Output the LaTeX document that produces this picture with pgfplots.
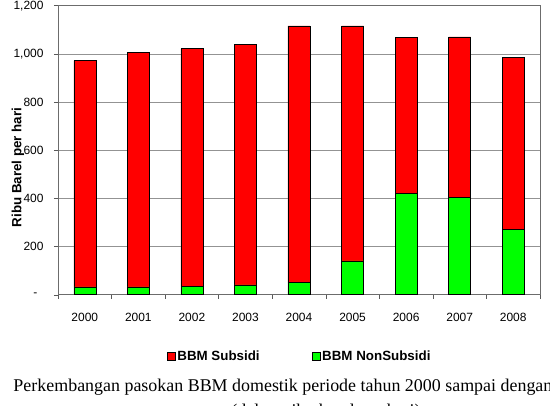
\documentclass[border=0pt]{standalone}
\usepackage{pgfplots}
\pgfplotsset{compat=1.18}
\usepackage{fontspec}
\setmainfont{Liberation Sans}
\newfontfamily\timesfont{Liberation Serif}
\definecolor{subsidi}{HTML}{FF0000}
\definecolor{nonsub}{HTML}{00FF00}
\begin{document}
\begin{tikzpicture}
\begin{axis}[
  at={(58bp,111.3bp)}, anchor=south west,
  scale only axis, width=482bp, height=289bp,
  ybar stacked, bar width=22bp,
  xmin=-0.5, xmax=8.5, ymin=0, ymax=1200,
  xtick={0,...,8},
  xticklabels={2000,2001,2002,2003,2004,2005,2006,2007,2008},
  minor xtick={-0.5,0.5,...,8.5},
  ytick={0,200,...,1200},
  yticklabels={{-\hspace*{6bp}},200,400,600,800,{1,000},{1,200}},
  xtick pos=bottom, ytick pos=left,
  tick align=outside,
  major x tick style={draw=none},
  minor tick length=4bp, major tick length=4bp,
  every tick/.style={gray!70!black},
  ymajorgrids, grid style={gray!85, line width=0.6bp},
  axis line style={gray!85!black, line width=0.6bp},
  tick label style={font=\fontsize{12}{14}\selectfont},
  xticklabel style={yshift=-11bp},
  yticklabel style={xshift=-7bp},
  /pgf/number format/assume math mode=true,
  reverse legend,
  legend columns=2,
  legend style={draw=none, fill=none, at={(0.2255,-0.2145)}, anchor=west,
    inner sep=0pt, font=\bfseries\fontsize{13.4}{16}\selectfont,
    nodes={inner xsep=2bp, inner ysep=0pt},
    /tikz/every even column/.append style={column sep=50bp}},
]
\addplot[fill=nonsub, draw=black, line width=0.5bp,
  legend image code/.code={\draw[fill=nonsub,draw=black,line width=0.5bp] (0bp,-4bp) rectangle (8bp,4bp);}]
  coordinates {(0,33) (1,33) (2,35) (3,41) (4,52) (5,140) (6,420) (7,403) (8,272)};
\addplot[fill=subsidi, draw=black, line width=0.5bp,
  legend image code/.code={\draw[fill=subsidi,draw=black,line width=0.5bp] (0bp,-4bp) rectangle (8bp,4bp);}]
  coordinates {(0,939) (1,972) (2,987) (3,999) (4,1064) (5,976) (6,648) (7,668) (8,713)};
\legend{BBM NonSubsidi, BBM Subsidi}
\end{axis}
\node[rotate=90, font=\bfseries\fontsize{13.4}{16}\selectfont] at (18bp,238.5bp) {Ribu Barel per hari};
\node[anchor=base west, inner sep=0pt, font=\timesfont\fontsize{18}{20}\selectfont] at (13.3bp,14.2bp) {Perkembangan pasokan BBM domestik periode tahun 2000 sampai dengan 2008};
\node[anchor=base, inner sep=0pt, font=\timesfont\fontsize{18}{20}\selectfont] at (326bp,-10.5bp) {(dalam ribu barel per hari)};
\pgfresetboundingbox
\useasboundingbox (0,0) rectangle (550bp,406bp);
\end{tikzpicture}
\end{document}
